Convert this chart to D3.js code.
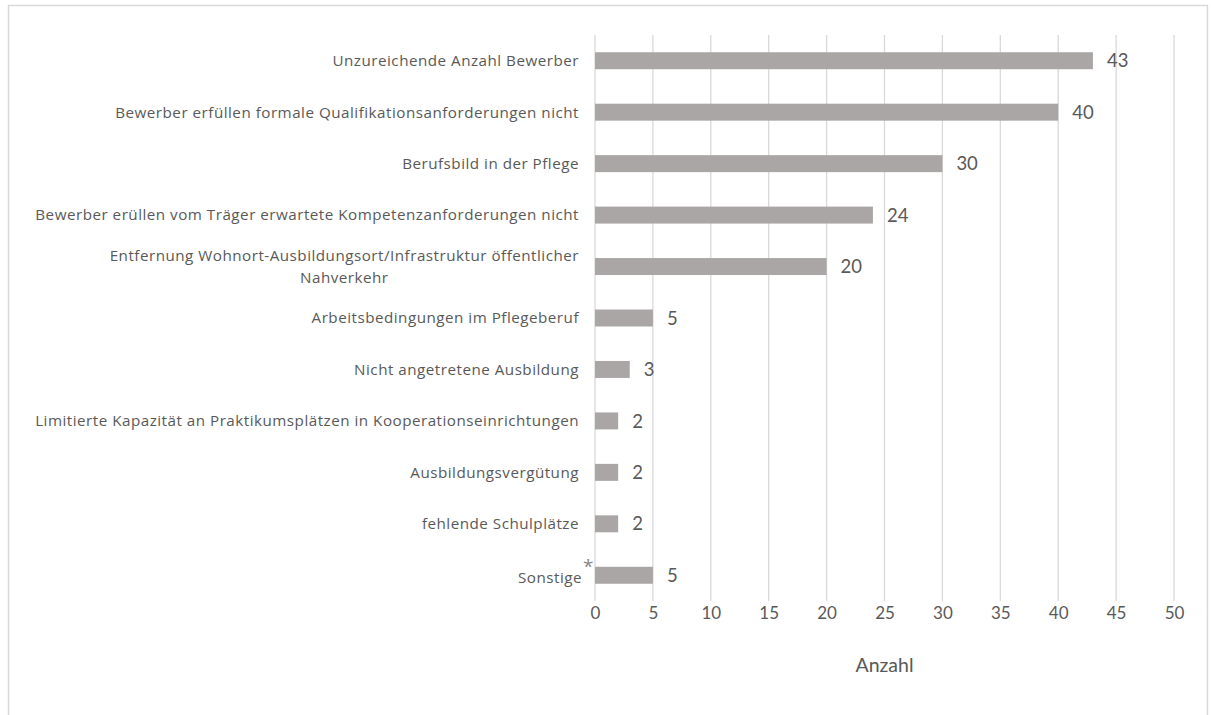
<!DOCTYPE html>
<html><head><meta charset="utf-8">
<script src="https://cdn.jsdelivr.net/npm/d3@7"></script>
<style>body{margin:0;background:#fff}svg{display:block}</style>
</head><body>
<svg id="c" width="1212" height="715"></svg>
<script>
const categories = [
  ["Unzureichende Anzahl Bewerber"],
  ["Bewerber erfüllen formale Qualifikationsanforderungen nicht"],
  ["Berufsbild in der Pflege"],
  ["Bewerber erüllen vom Träger erwartete Kompetenzanforderungen nicht"],
  ["Entfernung Wohnort-Ausbildungsort/Infrastruktur öffentlicher", "Nahverkehr"],
  ["Arbeitsbedingungen im Pflegeberuf"],
  ["Nicht angetretene Ausbildung"],
  ["Limitierte Kapazität an Praktikumsplätzen in Kooperationseinrichtungen"],
  ["Ausbildungsvergütung"],
  ["fehlende Schulplätze"],
  ["Sonstige"]
];
const values = [43, 40, 30, 24, 20, 5, 3, 2, 2, 2, 5];
const tickValues = [0, 5, 10, 15, 20, 25, 30, 35, 40, 45, 50];
const axisTitle = "Anzahl";

const svg = d3.select("#c");
const font = "Lato, 'Open Sans', sans-serif";
const labelFont = "'Open Sans', sans-serif";
const textColor = "#595959";

// frame
svg.append("rect").attr("x", 8.5).attr("y", 5.5).attr("width", 1199).attr("height", 720)
  .attr("fill", "none").attr("stroke", "#d9d9d9").attr("stroke-width", 1.5);

const x = d3.scaleLinear().domain([0, 50]).range([595, 1174]);
const idx = categories.map((d, i) => i);
const y = d3.scaleBand().domain(idx).range([35, 601]).paddingInner(0.67).paddingOuter(0.335);

// gridlines
svg.append("g").selectAll("line").data(tickValues).join("line")
  .attr("x1", d => x(d)).attr("x2", d => x(d))
  .attr("y1", 35).attr("y2", 601)
  .attr("stroke", "#d9d9d9").attr("stroke-width", 1.3);

// bars
svg.append("g").selectAll("rect").data(values).join("rect")
  .attr("x", x(0)).attr("y", (d, i) => y(i))
  .attr("width", d => x(d) - x(0)).attr("height", y.bandwidth())
  .attr("fill", "#aaa6a6");

// value labels
svg.append("g").selectAll("text").data(values).join("text")
  .attr("x", d => x(d) + 14).attr("y", (d, i) => y(i) + y.bandwidth() / 2)
  .attr("dy", "0.36em").attr("font-family", font).attr("font-size", 18.5)
  .attr("fill", textColor).text(d => d);

// category labels
const labelRight = 579;
const lg = svg.append("g");
categories.forEach((lines, i) => {
  const cy = y(i) + y.bandwidth() / 2;
  const lh = 22;
  const g = lg.append("g");
  const ts = lines.map((t, j) => g.append("text")
    .attr("y", cy + (j - (lines.length - 1) / 2) * lh)
    .attr("dy", "0.35em").attr("font-family", labelFont).attr("font-size", 15.2)
    .attr("letter-spacing", 0.5)
    .attr("fill", textColor).attr("text-anchor", "middle").text(t));
  const widths = ts.map(t => t.node().getComputedTextLength());
  const maxW = Math.max(...widths);
  ts.forEach(t => t.attr("x", labelRight - maxW / 2));
  if (lines[0] === "Sonstige") {
    ts[0].attr("x", labelRight + 3 - maxW / 2).attr("y", cy + 2);
    g.append("text").attr("x", labelRight + 4).attr("y", cy - 2)
      .attr("font-family", labelFont).attr("font-size", 19).attr("fill", "#8a8a8a").text("*");
  }
});

// x axis tick labels
const axis = d3.axisBottom(x).tickValues(tickValues).tickSize(0).tickPadding(0);
const ag = svg.append("g").attr("transform", "translate(0,603)").call(axis);
ag.select(".domain").remove();
ag.selectAll("text").attr("font-family", font).attr("font-size", 17)
  .attr("fill", textColor).attr("dy", "0.95em");

// axis title
svg.append("text").attr("x", (x(0) + x(50)) / 2).attr("y", 665).attr("dy", "0.35em")
  .attr("text-anchor", "middle").attr("font-family", font).attr("font-size", 19.5)
  .attr("fill", textColor).text(axisTitle);
</script>
</body></html>
